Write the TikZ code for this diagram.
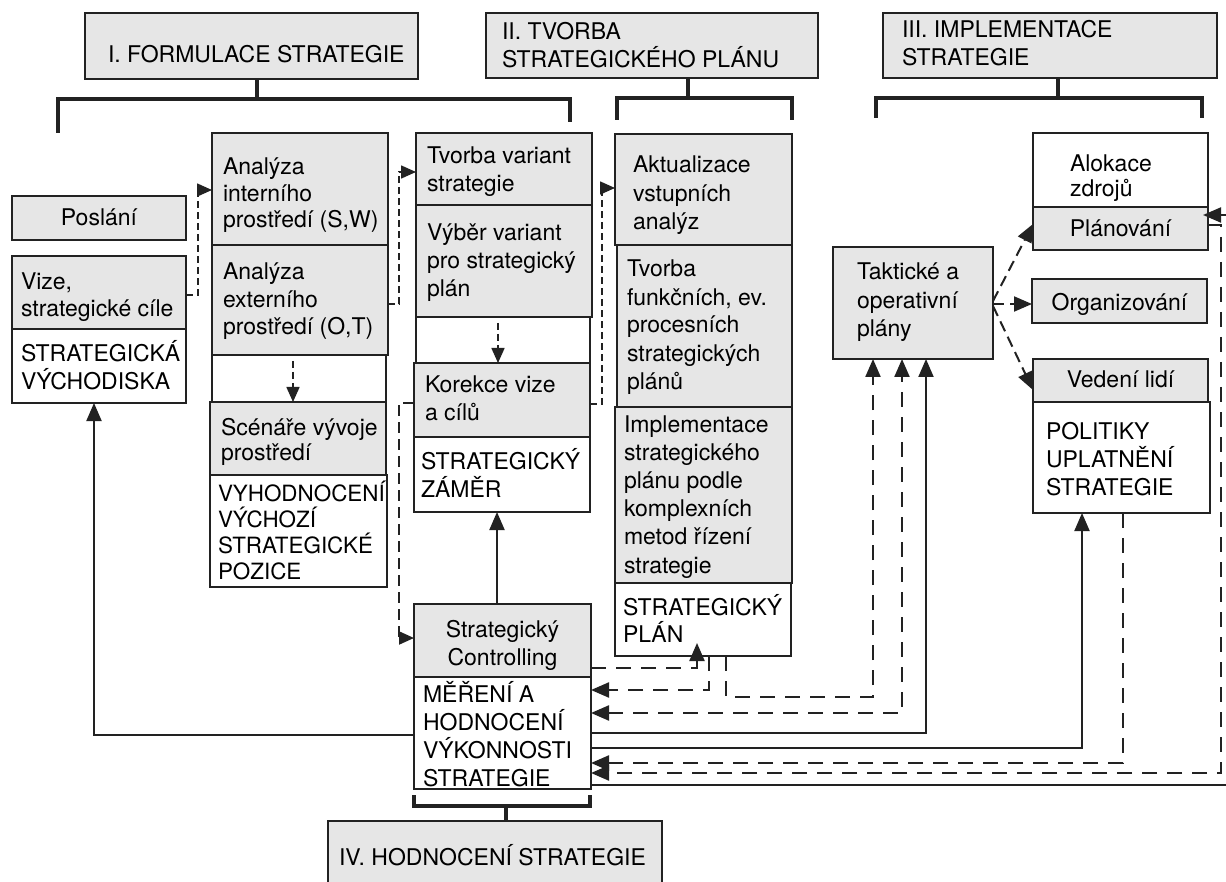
\documentclass[tikz,border=0pt]{standalone}
\usepackage{fontspec}
\setmainfont{TeX Gyre Heros}
\usetikzlibrary{arrows.meta}
\definecolor{boxgray}{HTML}{E6E6E6}
\definecolor{ink}{HTML}{222222}
% box from corner (x1,y1) to corner (x2,y2): name, x1, y1, x2, y2, style
\newcommand\boxnode[6]{%
  \node[#6, minimum width={#4pt-#2pt}, minimum height={#5pt-#3pt}] (#1)
    at ({(#2+#4)/2},{(#3+#5)/2}) {};}
\begin{document}
\begin{tikzpicture}[x=1pt,y=-1pt,
  every node/.style={inner sep=0pt, outer sep=0pt},
  box/.style={draw=ink, line width=2pt, fill=white, rectangle},
  gbox/.style={box, fill=boxgray},
  % multi-line labels are anchored at the baseline of their last line
  txt/.style={font=\fontsize{23}{28}\selectfont, align=left, anchor=base west, text=black},
  ctxt/.style={font=\fontsize{23}{28}\selectfont, align=center, anchor=base, text=black},
  tip/.style={-{Triangle[length=18pt,width=15pt]}},
  stip/.style={-{Triangle[length=15pt,width=13pt]}},
  conn/.style={draw=ink, line width=2pt},
  longdash/.style={conn, line width=2.2pt, dash pattern=on 15pt off 10pt},
  meddash/.style={conn, dash pattern=on 11pt off 6pt},
  shortdash/.style={conn, line width=1.6pt, dash pattern=on 7pt off 4pt},
  bracket/.style={draw=ink, line width=4.5pt},
]
\useasboundingbox (0,0) rectangle (1226,882);
\fill[white] (0,0) rectangle (1226,882);

% ---------- phase headers ----------
\boxnode{h1}{85}{13}{418}{79}{gbox}
\boxnode{h2}{486}{13}{818}{78}{gbox}
\boxnode{h3}{883}{13}{1217}{78}{gbox}
\boxnode{h4}{328}{821}{662}{900}{gbox}
\node[txt] (h1t) at (108,63) {I. FORMULACE STRATEGIE};
\node[txt] (h2t) at (502,68) {II. TVORBA\\STRATEGICKÉHO PLÁNU};
\node[txt] (h3t) at (902,66) {III. IMPLEMENTACE\\STRATEGIE};
\node[txt] (h4t) at (339,865) {IV. HODNOCENÍ STRATEGIE};

% ---------- brackets ----------
\draw[bracket] (58,133) -- (58,99) -- (570,99) -- (570,122);
\draw[bracket] (h1.south -| 257,0) -- (257,99);
\draw[bracket] (617,120) -- (617,98) -- (792,98) -- (792,120);
\draw[bracket] (h2.south -| 688,0) -- (688,98);
\draw[bracket] (876,118) -- (876,98) -- (1202,98) -- (1202,118);
\draw[bracket] (h3.south -| 1058,0) -- (1058,98);
\draw[bracket] (414,795) -- (414,806) -- (590,806) -- (590,795);
\draw[bracket] (506,806) -- (h4.north -| 506,0);

% ---------- column 1 ----------
\boxnode{posl}{12}{196}{186}{240}{gbox}
\boxnode{vize}{12}{256}{186}{329}{gbox}
\boxnode{vych}{12}{329}{186}{403}{box}
\node[ctxt] (poslt) at (posl.center |- 0,226) {Poslání};
\node[txt, font=\fontsize{23}{27}\selectfont] (vizet) at (21,317) {Vize,\\strategické cíle};
\node[txt] (vycht) at (21,389) {STRATEGICKÁ\\VÝCHODISKA};

% ---------- column 2 ----------
\boxnode{ai}{212}{133}{388}{245}{gbox}
\boxnode{ae}{212}{245}{388}{355}{gbox}
\boxnode{emp1}{212}{355}{386}{402}{box}
\boxnode{scen}{210}{402}{386}{475}{gbox}
\boxnode{vyh}{210}{475}{387}{587}{box}
\node[txt, font=\fontsize{23}{26.5}\selectfont] (ait) at (223,228) {Analýza\\interního\\prostředí (S,W)};
\node[txt, font=\fontsize{23}{27.5}\selectfont] (aet) at (223,335) {Analýza\\externího\\prostředí (O,T)};
\node[txt, font=\fontsize{23}{25}\selectfont] (scent) at (221,460) {Scénáře vývoje\\prostředí};
\node[txt, font=\fontsize{22.4}{26}\selectfont] (vyht) at (218,579) {VYHODNOCENÍ\\VÝCHOZÍ\\STRATEGICKÉ\\POZICE};

% ---------- column 3 ----------
\boxnode{tv}{416}{133}{592}{205}{gbox}
\boxnode{vyb}{416}{205}{592}{317}{gbox}
\boxnode{emp2}{416}{317}{590}{363}{box}
\boxnode{kor}{414}{363}{590}{437}{gbox}
\boxnode{zam}{414}{437}{590}{512}{box}
\node[txt] (tvt) at (427,192) {Tvorba variant\\strategie};
\node[txt] (vybt) at (427,297) {Výběr variant\\pro strategický\\plán};
\node[txt] (kort) at (425,420) {Korekce vize\\a cílů};
\node[txt] (zamt) at (421,497) {STRATEGICKÝ\\ZÁMĚR};

% ---------- column 4 ----------
\boxnode{akt}{615}{134}{792}{245}{gbox}
\boxnode{tfp}{617}{245}{792}{407}{gbox}
\boxnode{imp}{615}{407}{792}{583}{gbox}
\boxnode{splan}{615}{583}{791}{656}{box}
\node[txt, font=\fontsize{23}{28.5}\selectfont] (aktt) at (633,230) {Aktualizace\\vstupních\\analýz};
\node[txt] (tfpt) at (627,389) {Tvorba\\funkčních, ev.\\procesních\\strategických\\plánů};
\node[txt, font=\fontsize{23}{28.2}\selectfont] (impt) at (624,573) {Implementace\\strategického\\plánu podle\\komplexních\\metod řízení\\strategie};
\node[txt, font=\fontsize{23}{27}\selectfont] (splant) at (623,642) {STRATEGICKÝ\\PLÁN};

% ---------- implementation ----------
\boxnode{takt}{833}{247}{993}{359}{gbox}
\boxnode{alok}{1033}{133}{1208}{207}{box}
\boxnode{plan}{1033}{207}{1208}{250}{gbox}
\boxnode{org}{1032}{279}{1207}{323}{gbox}
\boxnode{ved}{1033}{359}{1208}{402}{gbox}
\boxnode{pol}{1033}{402}{1210}{513}{box}
\node[txt, font=\fontsize{23}{28.5}\selectfont] (taktt) at (857,337) {Taktické a\\operativní\\plány};
\node[txt, font=\fontsize{23}{25}\selectfont] (alokt) at (1070,197) {Alokace\\zdrojů};
\node[ctxt] (plant) at (plan.center |- 0,237) {Plánování};
\node[ctxt] (orgt) at (org.center |- 0,311) {Organizování};
\node[ctxt] (vedt) at (ved.center |- 0,388) {Vedení lidí};
\node[txt] (polt) at (1046,495) {POLITIKY\\UPLATNĚNÍ\\STRATEGIE};

% ---------- evaluation ----------
\boxnode{ctrl}{414}{604}{591}{677}{gbox}
\boxnode{mer}{414}{677}{591}{789}{box}
\node[ctxt] (ctrlt) at (ctrl.center |- 0,665) {Strategický\\Controlling};
\node[txt] (mert) at (423,786) {MĚŘENÍ A\\HODNOCENÍ\\VÝKONNOSTI\\STRATEGIE};

% ---------- connectors: formulation and plan ----------
\draw[shortdash, stip] (vize.east |- 0,295) -- (198,295) -- (198,190) -- (ai.west |- 0,190);
\draw[shortdash, stip] (ae.east |- 0,304) -- (399,304) -- (399,172) -- (tv.west |- 0,172);
\draw[shortdash, stip] (kor.east |- 0,404) -- (602,404) -- (602,188) -- (akt.west |- 0,188);
\draw[shortdash, stip, shorten <=6pt] (ae.south -| 293,0) -- (scen.north -| 293,0);
\draw[shortdash, stip, shorten <=6pt] (vyb.south -| 498,0) -- (kor.north -| 498,0);
\draw[meddash, stip] (kor.west |- 0,403) -- (399,403) -- (399,638) -- (ctrl.west |- 0,638);
\draw[conn, tip] (ctrl.north -| 497,0) -- (zam.south -| 497,0);
\draw[conn, tip] (mer.west |- 0,735) -- (94,735) -- (vych.south -| 94,0);

% ---------- connectors: evaluation loops ----------
\draw[longdash, tip, shorten >=-13pt] (ctrl.east |- 0,668) -- (697,668) -- (splan.south -| 697,0);
\draw[longdash, tip] (splan.south -| 709,0) -- (709,690) -- (mer.east |- 0,690);
\draw[longdash, tip] (splan.south -| 726,0) -- (726,697) -- (873,697) -- (takt.south -| 873,0);
\draw[longdash, {Triangle[length=18pt,width=15pt]}-{Triangle[length=18pt,width=15pt]}]
  (mer.east |- 0,713) -- (902,713) -- (takt.south -| 902,0);
\draw[conn, tip] (mer.east |- 0,733) -- (926,733) -- (takt.south -| 926,0);
\draw[conn, tip] (mer.east |- 0,748) -- (1082,748) -- (pol.south -| 1082,0);
\draw[longdash, tip] (pol.south -| 1123,0) -- (1123,763) -- (mer.east |- 0,763);
\draw[longdash, tip] (plan.east |- 0,225) -- (1221,225) -- (1221,773) -- (mer.east |- 0,773);
\draw[conn, tip, shorten >=-5pt] (mer.east |- 0,785) -- (1240,785) -- (1240,215) -- (plan.east |- 0,215);

% ---------- connectors: implementation functions ----------
\draw[meddash, tip] (takt.east |- 0,301) -- (plan.west |- 0,224);
\draw[meddash, tip] (takt.east |- 0,304) -- (org.west |- 0,304);
\draw[meddash, tip] (takt.east |- 0,306) -- (ved.west |- 0,390);
\end{tikzpicture}
\end{document}
